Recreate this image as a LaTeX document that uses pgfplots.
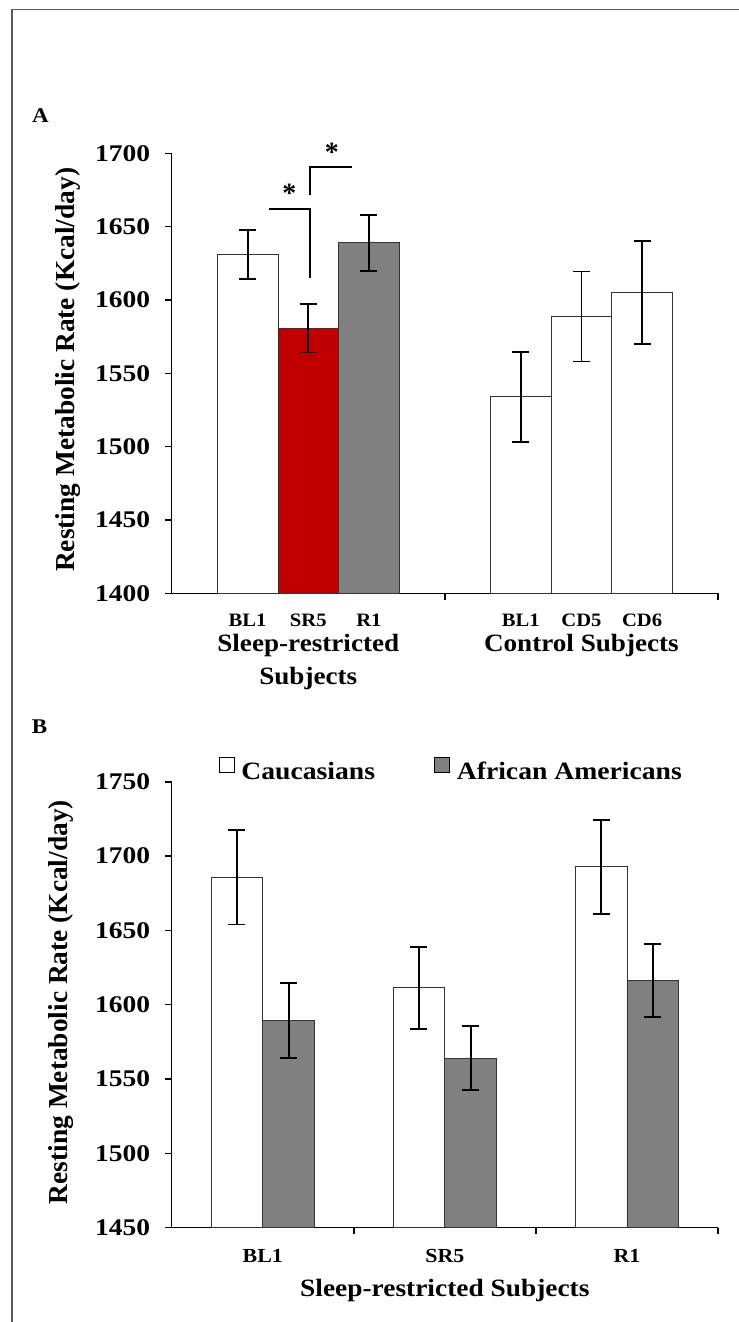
\documentclass[border=0pt]{standalone}
\usepackage{fontspec}
\setmainfont{Liberation Serif}
\usepackage{graphicx}
\usepackage{pgfplots}
\pgfplotsset{compat=1.18}
\definecolor{srred}{HTML}{C00000}
\definecolor{bargray}{HTML}{808080}
\newcommand{\fs}[1]{\bfseries\fontsize{#1}{#1}\selectfont}
\newcommand{\hs}[2]{\scalebox{#1}[1]{#2}}
\pgfplotsset{
  myaxis/.style={
    scale only axis, width=546.3bp,
    axis x line*=bottom, axis y line*=left,
    axis line style={line width=1.5bp,-},
    tick align=outside, major tick length=6.5bp,
    tick style={line width=1.5bp, black},
    /pgf/number format/assume math mode=true,
    /pgf/number format/1000 sep={},
    yticklabel={\hs{1.15}{\pgfmathprintnumber{\tick}}},
    yticklabel style={font=\fs{24}, inner sep=0pt, xshift=-15bp},
    ylabel style={font=\fs{27.5}},
    ybar, bar shift=0, clip=false,
    every axis plot/.append style={draw=black!80, line width=0.8bp,
      error bars/y dir=both, error bars/y explicit,
      error bars/error bar style={line width=1.8bp, black},
      error bars/error mark options={line width=1.8bp, black, mark size=8.5bp, rotate=90}},
  }
}
\begin{document}
\begin{tikzpicture}
\useasboundingbox (0bp,0bp) rectangle (739bp,-1322bp);
\draw[line width=1.3bp, black!65] (12bp,-1322bp) -- (12bp,-9.5bp) -- (739bp,-9.5bp);
\node[font=\fs{21}] at (40.5bp,-115.5bp) {\hs{1.1}{A}};
\node[font=\fs{21}] at (39.6bp,-727bp) {\hs{1.1}{B}};

% Panel A
\begin{axis}[myaxis,
  at={(171.7bp,-593.3bp)}, anchor=south west, height=440bp,
  xmin=-0.5, xmax=1.5, ymin=1400, ymax=1700,
  ytick={1400,1450,...,1700},
  xtick={0.5,1.5}, xticklabels={},
  extra x ticks={-0.222,0,0.222,0.778,1,1.222},
  extra x tick labels={\hs{1.09}{BL1},\hs{1.09}{SR5},\hs{1.09}{R1},\hs{1.09}{BL1},\hs{1.09}{CD5},\hs{1.09}{CD6}},
  extra x tick style={major tick length=0pt,
    tick label style={font=\fs{19}, anchor=base, inner sep=0pt, yshift=-33.4bp}},
  bar width=0.222,
  ylabel={Resting Metabolic Rate (Kcal/day)},
  ylabel style={at={(axis description cs:-0.1907,0.508)}, anchor=center},
]
\addplot[fill=white] coordinates {
  (-0.222,1631) +- (0,16.8)
  (0.778,1534) +- (0,30.8)
  (1,1588.7) +- (0,30.7)
  (1.222,1605) +- (0,35.2)
};
\addplot[fill=srred] coordinates {(0,1580.7) +- (0,16.5)};
\addplot[fill=bargray] coordinates {(0.222,1639) +- (0,19.2)};
\draw[line width=1.8bp] (axis cs:-0.143,1662.2) -- (axis cs:0.005,1662.2) -- (axis cs:0.005,1614.8);
\draw[line width=1.8bp] (axis cs:0.005,1671.5) -- (axis cs:0.005,1690.7) -- (axis cs:0.160,1690.7);
\node[font=\fs{28}, yshift=-4bp] at (axis cs:-0.069,1675.6) {*};
\node[font=\fs{28}, yshift=-4bp] at (axis cs:0.086,1703.6) {*};
\node[font=\fs{25}, anchor=base] at (axis cs:0,1400) [yshift=-58.4bp] {\hs{1.09}{Sleep-restricted}};
\node[font=\fs{25}, anchor=base] at (axis cs:0,1400) [yshift=-91bp] {\hs{1.09}{Subjects}};
\node[font=\fs{25}, anchor=base] at (axis cs:1,1400) [yshift=-58.4bp] {\hs{1.09}{Control Subjects}};
\end{axis}

% Panel B
\begin{axis}[myaxis,
  at={(171.7bp,-1227.6bp)}, anchor=south west, height=445.8bp,
  xmin=-0.5, xmax=2.5, ymin=1450, ymax=1750,
  ytick={1450,1500,...,1750},
  xtick={0.5,1.5,2.5}, xticklabels={},
  extra x ticks={0,1,2},
  extra x tick labels={\hs{1.1}{BL1},\hs{1.1}{SR5},\hs{1.1}{R1}},
  extra x tick style={major tick length=0pt,
    tick label style={font=\fs{20}, anchor=base, inner sep=0pt, yshift=-35bp}},
  bar width=0.284,
  ylabel={Resting Metabolic Rate (Kcal/day)},
  ylabel style={at={(axis description cs:-0.2026,0.506)}, anchor=center},
  xlabel={\hs{1.1}{Sleep-restricted Subjects}},
  xlabel style={font=\fs{25}, at={(axis description cs:0.5,0)}, anchor=base, inner sep=0pt, yshift=-68.4bp},
  legend columns=2,
  legend style={draw=none, fill=none, at={(axis description cs:0.0855,1.029)}, anchor=west,
    font=\fs{25}, inner sep=0pt, nodes={inner sep=0pt},
    /tikz/every odd column/.append style={column sep=7bp},
    /tikz/every even column/.append style={column sep=59bp}},
  legend image code/.code={\draw[#1, line width=0.8bp, draw=black] (0bp,-0.5bp) rectangle (15bp,14.5bp);},
]
\addplot[fill=white, bar shift=-0.142] coordinates {
  (0,1685.8) +- (0,31.8)
  (1,1611.4) +- (0,27.5)
  (2,1692.8) +- (0,31.5)
};
\addlegendentry{\hs{1.11}{Caucasians}}
\addplot[fill=bargray, bar shift=0.142] coordinates {
  (0,1589.5) +- (0,25.1)
  (1,1564.1) +- (0,21.5)
  (2,1616.3) +- (0,24.4)
};
\addlegendentry{\hs{1.11}{African Americans}}
\end{axis}
\end{tikzpicture}
\end{document}
